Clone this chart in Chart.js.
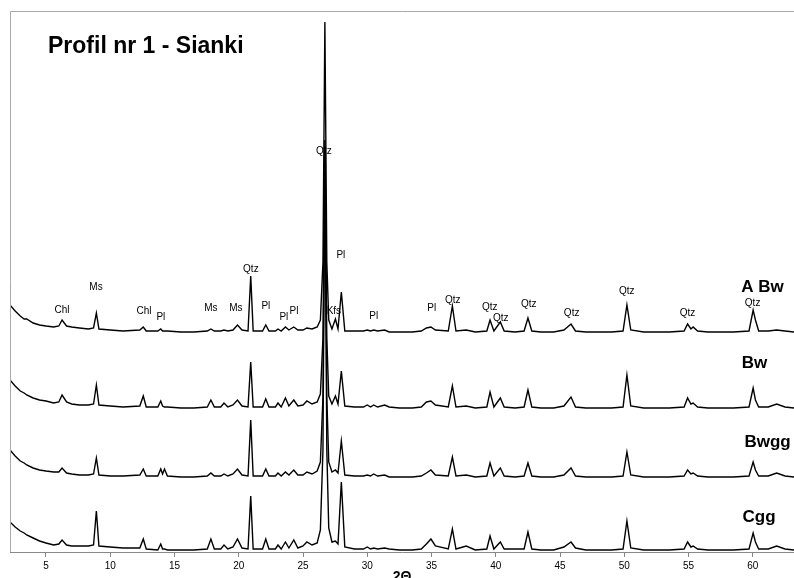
<!DOCTYPE html>
<html>
<head>
<meta charset="utf-8">
<script src="https://cdn.jsdelivr.net/npm/chart.js@4.4.1/dist/chart.umd.min.js"></script>
<style>
  html, body { margin: 0; padding: 0; background: #fff; }
  #wrap { width: 794px; height: 578px; }
</style>
</head>
<body>
<div id="wrap"><canvas id="myChart" width="794" height="578"></canvas></div>
<script>
// 2-theta positions (deg) shared by all four patterns
var twoTheta = [2.2, 2.6, 3.0, 3.3, 3.5, 4.0, 4.5, 5.0, 5.6, 6.0,
    6.25, 6.6, 7.0, 7.6, 8.3, 8.7, 8.92, 9.12, 10.0, 11.0,
    12.3, 12.57, 12.8, 13.7, 13.93, 14.07, 14.22, 14.45, 15.5, 16.5,
    17.55, 17.83, 18.1, 18.6, 18.85, 19.15, 19.55, 19.9, 20.25, 20.72,
    20.93, 21.12, 21.85, 22.1, 22.35, 22.85, 23.05, 23.3, 23.63, 23.9,
    24.28, 24.6, 25.0, 25.3, 25.7, 26.1, 26.35, 26.55, 26.7, 26.85,
    27.0, 27.25, 27.52, 27.72, 27.98, 28.25, 29.0, 29.7, 30.0, 30.25,
    30.5, 30.8, 31.35, 31.7, 32.5, 33.5, 34.2, 34.6, 34.95, 35.3,
    36.3, 36.62, 36.9, 37.7, 38.4, 39.3, 39.55, 39.85, 40.35, 40.65,
    41.5, 42.2, 42.5, 42.8, 43.5, 44.5, 45.3, 45.85, 46.2, 47.0,
    48.0, 49.0, 49.9, 50.2, 50.5, 51.5, 52.5, 53.5, 54.65, 54.92,
    55.18, 55.35, 55.7, 56.5, 57.5, 58.5, 59.7, 60.02, 60.2, 60.45,
    61.2, 61.85, 62.5, 63.2];

// intensities above each pattern's own baseline (a.u.)
var intABw = [27, 21, 16, 13, 13, 9, 7, 6, 5, 6,
    12, 6, 5, 4, 3, 4, 19, 3, 2, 1,
    2, 5, 1, 1, 3, 1, 1, 1, 0, 0,
    1, 3, 1, 1, 2, 1, 2, 7, 2, 1,
    56, 1, 1, 7, 1, 1, 3, 1, 5, 2,
    5, 2, 2, 4, 3, 5, 12, 70, 310, 70,
    12, 3, 13, 3, 40, 1, 1, 1, 2, 1,
    2, 1, 2, 0, 0, 0, 1, 4, 5, 2,
    1, 26, 1, 2, 0, 1, 12, 1, 10, 1,
    0, 1, 14, 1, 0, 0, 2, 8, 1, 0,
    0, 0, 1, 27, 2, 0, 0, 0, 1, 8,
    3, 5, 1, 0, 0, 0, 1, 22, 12, 1,
    1, 2, 1, 0];

var intBw = [28, 22, 17, 15, 13, 10, 8, 7, 5, 6,
    13, 6, 4, 3, 3, 4, 23, 3, 2, 1,
    2, 12, 1, 1, 7, 2, 1, 1, 0, 0,
    1, 8, 1, 1, 5, 1, 3, 8, 2, 1,
    46, 1, 1, 9, 1, 1, 5, 1, 10, 2,
    8, 2, 3, 7, 4, 6, 14, 70, 268, 70,
    12, 4, 12, 4, 37, 2, 1, 1, 3, 1,
    3, 1, 3, 1, 0, 0, 1, 6, 7, 3,
    1, 22, 1, 2, 0, 1, 16, 1, 10, 1,
    0, 1, 18, 1, 0, 0, 2, 11, 1, 0,
    0, 0, 1, 33, 2, 0, 0, 0, 1, 10,
    4, 5, 1, 0, 0, 0, 1, 20, 8, 1,
    1, 4, 1, 0];

var intBwgg = [27, 21, 16, 14, 12, 9, 7, 6, 5, 5,
    9, 4, 3, 2, 2, 3, 19, 2, 1, 1,
    2, 8, 1, 1, 8, 3, 8, 1, 0, 0,
    1, 4, 1, 1, 3, 1, 3, 8, 2, 1,
    57, 1, 1, 8, 1, 1, 4, 1, 5, 2,
    7, 2, 2, 5, 3, 6, 15, 80, 330, 80,
    15, 5, 7, 4, 36, 2, 1, 1, 2, 1,
    3, 1, 2, 0, 0, 0, 1, 4, 7, 2,
    1, 20, 1, 2, 0, 1, 14, 1, 9, 1,
    0, 1, 14, 1, 0, 0, 2, 9, 1, 0,
    0, 0, 1, 25, 2, 0, 0, 0, 1, 7,
    3, 4, 1, 0, 0, 0, 1, 15, 7, 1,
    1, 4, 1, 0];

var intCgg = [28, 23, 19, 17, 15, 12, 9, 7, 5, 6,
    10, 5, 4, 4, 4, 5, 39, 4, 3, 2,
    2, 11, 1, 0, 6, 1, 1, 0, 0, 0,
    1, 11, 1, 1, 5, 1, 3, 11, 2, 1,
    54, 1, 1, 11, 1, 1, 5, 1, 8, 2,
    10, 2, 4, 8, 5, 7, 20, 100, 400, 100,
    22, 8, 9, 6, 68, 3, 1, 1, 3, 1,
    2, 1, 2, 1, 0, 0, 1, 6, 11, 4,
    1, 21, 1, 4, 0, 1, 14, 1, 8, 1,
    1, 1, 18, 1, 0, 0, 3, 8, 2, 0,
    0, 0, 1, 29, 2, 0, 0, 0, 1, 8,
    3, 4, 1, 0, 0, 0, 1, 17, 8, 1,
    1, 4, 1, 0];

// vertical offset of each pattern in the stack
var sampleNames = ['A Bw', 'Bw', 'Bwgg', 'Cgg'];
var sampleOffsets = [220, 144, 75, 2];
var sampleLabelTheta = [60.75, 60.13, 61.14, 60.48];
var sampleLabelLevel = [265, 189, 110, 35];

// phase labels on the top pattern
var phaseText = ['Chl', 'Ms', 'Chl', 'Pl', 'Ms', 'Ms', 'Qtz', 'Pl', 'Pl', 'Pl', 'Qtz', 'Pl', 'Kfs',
    'Pl', 'Pl', 'Qtz', 'Qtz', 'Qtz', 'Qtz', 'Qtz', 'Qtz', 'Qtz', 'Qtz'];
var phaseTheta = [6.24, 8.89, 12.62, 13.94, 17.83, 19.77, 20.94, 22.11, 23.51, 24.29, 26.62, 27.94, 27.4,
    30.5, 35.02, 36.65, 39.53, 40.38, 42.56, 45.9, 50.18, 54.92, 59.98];
var phaseLevel = [242, 265, 241, 235, 244, 244, 283, 246, 235, 241, 401, 297, 241,
    236, 244, 252, 245, 234, 248, 239, 261, 239, 249];

var tickValues = [5, 10, 15, 20, 25, 30, 35, 40, 45, 50, 55, 60];

var FONT = '"Liberation Sans", Arial, sans-serif';

var series = [intABw, intBw, intBwgg, intCgg];
var datasets = series.map(function (vals, k) {
    return {
        label: sampleNames[k],
        data: twoTheta.map(function (t, i) { return { x: t, y: sampleOffsets[k] + vals[i] }; }),
        borderColor: '#000',
        borderWidth: 1.4,
        pointRadius: 0,
        tension: 0,
        fill: false
    };
});

var labelPlugin = {
    id: 'xrdLabels',
    afterDatasetsDraw: function (chart) {
        var c = chart.ctx, xs = chart.scales.x, ys = chart.scales.y, a = chart.chartArea;
        c.save();
        // frame
        c.strokeStyle = '#aaa';
        c.lineWidth = 1;
        c.beginPath();
        c.moveTo(a.left + 0.5, a.bottom);
        c.lineTo(a.left + 0.5, a.top + 0.5);
        c.lineTo(a.right, a.top + 0.5);
        c.stroke();

        c.fillStyle = '#000';
        c.textAlign = 'center';
        c.textBaseline = 'middle';
        c.font = '10px ' + FONT;
        for (var i = 0; i < phaseText.length; i++) {
            c.fillText(phaseText[i], xs.getPixelForValue(phaseTheta[i]), ys.getPixelForValue(phaseLevel[i]));
        }
        c.font = 'bold 17px ' + FONT;
        for (var k = 0; k < sampleNames.length; k++) {
            c.fillText(sampleNames[k], xs.getPixelForValue(sampleLabelTheta[k]), ys.getPixelForValue(sampleLabelLevel[k]));
        }
        c.textAlign = 'left';
        c.textBaseline = 'alphabetic';
        c.font = 'bold 23px ' + FONT;
        c.fillText('Profil nr 1 - Sianki', a.left + 38, a.top + 42);

        c.textAlign = 'center';
        c.font = 'bold 14px ' + FONT;
        c.fillText('2\u0398', (a.left + a.right) / 2, chart.height + 3);
        c.restore();
    }
};

var ctx = document.getElementById('myChart').getContext('2d');
var myChart = new Chart(ctx, {
    type: 'line',
    data: { datasets: datasets },
    options: {
        responsive: false,
        animation: false,
        layout: { padding: { left: 10, top: 11, right: 0, bottom: 3 } },
        plugins: {
            legend: { display: false },
            tooltip: { enabled: false }
        },
        scales: {
            x: {
                type: 'linear',
                min: 2.2,
                max: 63.2,
                afterBuildTicks: function (axis) {
                    axis.ticks = tickValues.map(function (v) { return { value: v }; });
                },
                grid: { drawOnChartArea: false, drawTicks: true, tickLength: 5, color: '#888' },
                border: { display: true, color: '#888', width: 1 },
                ticks: { color: '#000', padding: 3, maxRotation: 0, font: { size: 10, family: FONT } }
            },
            y: {
                display: false,
                min: 0,
                max: 541
            }
        }
    },
    plugins: [labelPlugin]
});
</script>
</body>
</html>
